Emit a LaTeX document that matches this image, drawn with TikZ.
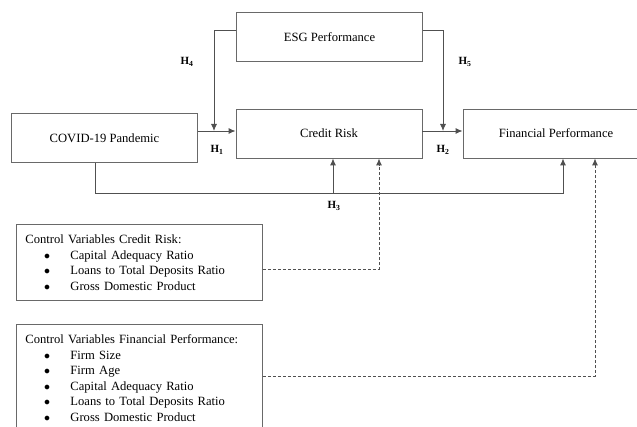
\documentclass[tikz,border=0pt]{standalone}
\usepackage{fontspec}
\setmainfont{Liberation Serif}
\usetikzlibrary{arrows.meta}

\definecolor{boxgray}{RGB}{105,105,105}
\definecolor{linegray}{RGB}{80,80,80}
\newcommand{\bulletitem}[1]{\hspace*{19pt}\makebox[5.5pt]{$\bullet$}\hspace*{20.5pt}#1}
\newcommand{\hyp}[1]{\textbf{H}\textsubscript{\textbf{#1}}}

\begin{document}
\begin{tikzpicture}[x=1pt, y=-1pt,
    box/.style={draw=boxgray, line width=0.9pt, minimum width=186pt, minimum height=49pt,
      font=\fontsize{12.6}{15.5}\selectfont},
    ctrlbox/.style={draw=boxgray, line width=0.9pt, anchor=north west, align=left,
      text width=228pt, inner xsep=9pt, inner ysep=7pt, minimum width=246pt,
      font=\fontsize{12.6}{15.5}\selectfont},
    link/.style={draw=linegray, line width=0.9pt, -{Latex[length=7pt,width=6pt]}},
    ctrllink/.style={link, dashed, dash pattern=on 3pt off 2pt},
    hlabel/.style={font=\fontsize{11}{13}\selectfont, inner sep=1pt}]
  \clip (0,0) rectangle (637,427);

  % constructs
  \node[box] (esg) at (329.5,37) {ESG Performance};
  \node[box] (covid) at (104.5,138) {COVID-19 Pandemic};
  \node[box] (cr) at (329,133.5) {Credit Risk};
  \node[box] (fp) at (556,133.5) {Financial Performance};

  % control variables
  \node[ctrlbox, minimum height=76pt] (ctrlcr) at (16,224) {Control Variables Credit Risk:\\
    \bulletitem{Capital Adequacy Ratio}\\
    \bulletitem{Loans to Total Deposits Ratio}\\
    \bulletitem{Gross Domestic Product}};
  \node[ctrlbox] (ctrlfp) at (16,324) {\rule{0pt}{12.5pt}Control Variables Financial Performance:\\
    \bulletitem{Firm Size}\\
    \bulletitem{Firm Age}\\
    \bulletitem{Capital Adequacy Ratio}\\
    \bulletitem{Loans to Total Deposits Ratio}\\
    \bulletitem{Gross Domestic Product}\\[-6pt]\mbox{}};

  % bend points
  \coordinate (m1) at (214,131);
  \coordinate (m2) at (443,131);
  \coordinate (h3l) at (95,193);
  \coordinate (h3m) at (333,193);
  \coordinate (h3r) at (563,193);
  \coordinate (dcr) at (379,269);
  \coordinate (dfp) at (595,376);

  % hypotheses
  \draw[link] (covid.east |- m1) -- (cr.west |- m1);
  \draw[link] (cr.east |- m2) -- (fp.west |- m2);
  \draw[link] ([yshift=7pt]esg.west) -| (m1);
  \draw[link] ([yshift=7pt]esg.east) -| (m2);
  \draw[link] (covid.south -| h3l) |- (h3r) -- (fp.south -| h3r);
  \draw[link] (h3m) -- (cr.south -| h3m);

  % controls
  \draw[ctrllink] (ctrlcr.east |- dcr) -| (cr.south -| dcr);
  \draw[ctrllink] (ctrlfp.east |- dfp) -| (fp.south -| dfp);

  \node[hlabel] (h1) at (217,150) {\hyp{1}};
  \node[hlabel] (h2) at (443,150) {\hyp{2}};
  \node[hlabel] (h3) at (334,206) {\hyp{3}};
  \node[hlabel] (h4) at (187,62) {\hyp{4}};
  \node[hlabel] (h5) at (465,62) {\hyp{5}};
\end{tikzpicture}
\end{document}
